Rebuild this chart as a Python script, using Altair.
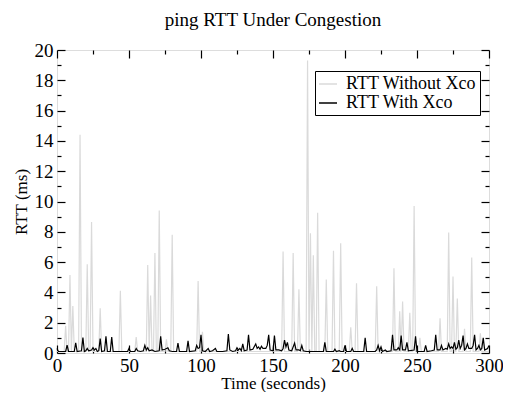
import altair as alt
import pandas as pd

title_text = "ping RTT Under Congestion"
x_title = "Time (seconds)"
y_title = "RTT (ms)"
series_names = ["RTT Without Xco", "RTT With Xco"]
series_colors = ["#dadada", "#000000"]

x_major = [0, 50, 100, 150, 200, 250, 300]
x_minor = [25, 75, 125, 175, 225, 275]
y_major = [0, 2, 4, 6, 8, 10, 12, 14, 16, 18, 20]
y_minor = [1, 3, 5, 7, 9, 11, 13, 15, 17, 19]

without_t = [0, 5, 6, 7, 8, 9, 10, 11, 12, 15, 16, 17, 20, 21, 22, 23, 24, 25,
             29, 30, 31, 43, 44, 45, 54, 55, 56, 62, 63, 64, 65, 66, 67, 68, 69,
             70, 71, 72, 75, 76, 77, 79, 80, 81, 97, 98, 99, 100, 101, 102,
             156, 157, 158, 163, 164, 165, 167, 168, 169, 173, 174, 175, 176,
             177, 178, 179, 180, 181, 182, 186, 187, 188, 191, 192, 193, 196,
             197, 198, 203, 204, 205, 207, 208, 209, 221, 222, 223, 233, 234,
             235, 237, 238, 239, 240, 241, 244, 245, 246, 247, 248, 249, 251,
             252, 253, 265, 266, 267, 271, 272, 273, 274, 275, 276, 277, 278,
             279, 282, 283, 284, 287, 288, 289, 293, 294, 295, 300]
without_rtt = [0.1, 0.1, 1.8, 0.1, 0.1, 5.15, 0.1, 3.1, 0.1, 0.1, 14.4, 0.1, 0.1,
               5.85, 0.1, 0.1, 8.65, 0.1, 0.1, 2.95, 0.1, 0.1, 4.1, 0.1, 0.1,
               1.05, 0.1, 0.1, 5.8, 0.1, 3.8, 0.1, 0.1, 6.6, 0.1, 0.1, 9.4, 0.1,
               0.1, 0.9, 0.1, 0.1, 7.8, 0.1, 0.1, 4.75, 0.1, 0.1, 1.4, 0.1,
               0.1, 6.7, 0.1, 0.1, 6.6, 0.1, 0.1, 4.2, 0.1, 0.1, 19.3, 0.1, 7.9,
               0.1, 6.45, 0.1, 0.1, 9.25, 0.1, 0.1, 4.85, 0.1, 0.1, 6.75, 0.1,
               0.1, 7.25, 0.1, 0.1, 1.7, 0.1, 0.1, 4.6, 0.1, 0.1, 4.4, 0.1, 0.1,
               5.6, 0.1, 0.1, 2.75, 0.1, 3.4, 0.1, 0.1, 2.65, 0.1, 0.1, 9.7, 0.1,
               0.1, 1.0, 0.1, 0.1, 2.3, 0.1, 0.1, 7.95, 0.1, 0.1, 5.05, 0.1, 0.1,
               3.6, 0.1, 0.1, 1.6, 0.1, 0.1, 6.3, 0.1, 0.1, 1.3, 0.1, 0.1]

with_t = [0, 1, 6, 7, 8, 12, 13, 14, 17, 18, 19, 20, 21, 22, 24, 25, 26, 27, 28,
          29, 30, 31, 33, 34, 35, 37, 38, 39, 49, 50, 51, 54, 55, 56, 58, 60, 61,
          62, 63, 64, 66, 68, 71, 72, 73, 75, 77, 78, 80, 83, 84, 85, 90, 91,
          92, 96, 97, 98, 99, 100, 101, 103, 105, 106, 108, 110, 111, 115, 118,
          119, 120, 122, 124, 125, 126, 127, 128, 129, 130, 132, 133, 134, 136,
          138, 139, 140, 141, 142, 143, 145, 146, 147, 148, 150, 151, 152, 154,
          156, 157, 158, 159, 160, 161, 163, 165, 166, 168, 169, 170, 171, 173,
          185, 186, 187, 192, 193, 194, 196, 197, 199, 200, 201, 204, 205, 206,
          213, 214, 215, 221, 222, 223, 224, 225, 226, 228, 229, 232, 233, 234,
          236, 237, 238, 239, 240, 242, 243, 244, 248, 249, 250, 255, 256, 257,
          260, 262, 263, 264, 266, 267, 268, 270, 271, 272, 273, 274, 275, 276,
          277, 278, 279, 280, 281, 282, 283, 284, 285, 286, 288, 289, 290, 291,
          292, 293, 294, 295, 296, 297, 299, 300]
with_rtt = [0.3, 0.1, 0.1, 0.52, 0.1, 0.1, 0.67, 0.1, 0.15, 1.02, 0.1, 0.15, 0.3,
            0.15, 0.2, 0.35, 0.2, 0.3, 0.1, 0.15, 0.95, 0.1, 0.15, 1.1, 0.1, 0.1,
            1.05, 0.1, 0.1, 0.3, 0.1, 0.1, 0.3, 0.15, 0.1, 0.15, 0.5, 0.2, 0.35,
            0.15, 0.2, 0.1, 0.15, 1.1, 0.2, 0.25, 0.35, 0.15, 0.1, 0.1, 0.65,
            0.1, 0.1, 0.8, 0.1, 0.15, 0.5, 0.3, 0.35, 1.2, 0.15, 0.1, 0.3, 0.1,
            0.15, 0.3, 0.1, 0.1, 0.15, 1.25, 0.2, 0.1, 0.15, 0.35, 0.2, 0.3,
            0.15, 0.6, 0.15, 0.2, 1.2, 0.2, 0.25, 0.6, 0.3, 0.4, 0.25, 0.45, 0.3,
            0.3, 0.5, 1.2, 0.2, 0.15, 1.15, 0.2, 0.2, 0.15, 0.3, 0.85, 0.4, 0.7,
            0.2, 0.15, 0.65, 0.2, 0.2, 0.15, 0.5, 0.15, 0.1, 0.1, 0.7, 0.1, 0.1,
            0.25, 0.1, 0.15, 0.1, 0.1, 0.5, 0.1, 0.1, 0.3, 0.1, 0.1, 1.0, 0.1,
            0.1, 0.2, 0.5, 0.15, 0.4, 0.1, 0.2, 0.1, 0.15, 1.2, 0.2, 0.2, 0.35,
            0.2, 1.15, 0.2, 0.2, 0.7, 0.15, 0.2, 1.1, 0.1, 0.1, 0.5, 0.1, 0.15,
            0.2, 1.2, 0.2, 0.2, 0.5, 0.2, 0.3, 0.25, 0.6, 0.3, 0.4, 0.3, 0.7,
            0.25, 0.35, 0.85, 0.3, 0.5, 1.15, 0.2, 0.3, 0.6, 0.3, 0.3, 0.5, 1.2,
            0.2, 0.3, 0.5, 0.2, 0.3, 1.0, 0.2, 0.3, 0.5]

FONT = "Times New Roman, Liberation Serif, DejaVu Serif, serif"

df_without = pd.DataFrame({"t": without_t, "rtt": without_rtt, "series": series_names[0]})
df_with = pd.DataFrame({"t": with_t, "rtt": with_rtt, "series": series_names[1]})

x_scale = alt.Scale(domain=[0, 300], nice=False, zero=False)
y_scale = alt.Scale(domain=[0, 20], nice=False, zero=False)
color_scale = alt.Scale(domain=series_names, range=series_colors)

legend = alt.Legend(
    title=None, orient="none", legendX=258, legendY=21,
    strokeColor="black", fillColor="white", padding=3,
    symbolType="stroke", symbolSize=324, symbolStrokeWidth=1.5,
    labelFont=FONT, labelFontSize=18, labelColor="black",
    labelOffset=8, rowPadding=0, labelLimit=300,
)

main_x_axis = alt.Axis(
    orient="bottom", values=x_major, ticks=False, domain=False, grid=False,
    labelFlush=False, labelFont=FONT, labelFontSize=19, labelColor="black",
    labelPadding=3, titleFont=FONT, titleFontSize=17, titleFontWeight="normal",
    titleColor="black", titlePadding=0,
)
main_y_axis = alt.Axis(
    orient="left", values=y_major, ticks=False, domain=False, grid=False,
    labelFlush=False, labelFont=FONT, labelFontSize=19, labelColor="black",
    labelPadding=4, titleFont=FONT, titleFontSize=17, titleFontWeight="normal",
    titleColor="black", titlePadding=4,
)


def line_layer(df, x_axis, y_axis, x_t, y_t):
    return alt.Chart(df).mark_line(strokeWidth=1.2, interpolate="linear").encode(
        x=alt.X("t:Q", scale=x_scale, axis=x_axis, title=x_t),
        y=alt.Y("rtt:Q", scale=y_scale, axis=y_axis, title=y_t),
        color=alt.Color("series:N", scale=color_scale, legend=legend),
    )


def tick_layer(x_orient, y_orient, xvals, yvals, size):
    xa = alt.Axis(orient=x_orient, values=xvals, labels=False, domain=False,
                  grid=False, ticks=True, tickSize=size, tickColor="black",
                  tickWidth=1.2, offset=-size)
    ya = alt.Axis(orient=y_orient, values=yvals, labels=False, domain=False,
                  grid=False, ticks=True, tickSize=size, tickColor="black",
                  tickWidth=1.2, offset=-size)
    return alt.Chart(df_with).mark_point(opacity=0, size=1).encode(
        x=alt.X("t:Q", scale=x_scale, axis=xa, title=None),
        y=alt.Y("rtt:Q", scale=y_scale, axis=ya, title=None),
    )


layers = [
    line_layer(df_without, main_x_axis, main_y_axis, x_title, y_title),
    line_layer(df_with, None, None, x_title, y_title),
    tick_layer("bottom", "left", x_major, y_major, 8),
    tick_layer("bottom", "left", x_minor, y_minor, 4),
    tick_layer("top", "right", x_major, y_major, 8),
    tick_layer("top", "right", x_minor, y_minor, 4),
]

chart = alt.layer(*layers).resolve_scale(
    x="shared", y="shared", color="shared"
).resolve_axis(
    x="independent", y="independent"
).properties(
    width=432, height=303,
    padding={"left": 49, "top": 42, "right": 14, "bottom": 39},
    autosize=alt.AutoSizeParams(type="none"),
    title=alt.Title(title_text, font=FONT, fontSize=19, fontWeight="normal",
                    color="black", anchor="middle", offset=11),
).configure_view(
    stroke="black", strokeWidth=1.5
).configure(
    background="white"
)

chart.save("out.html", embed_options={"renderer": "svg", "actions": False})
